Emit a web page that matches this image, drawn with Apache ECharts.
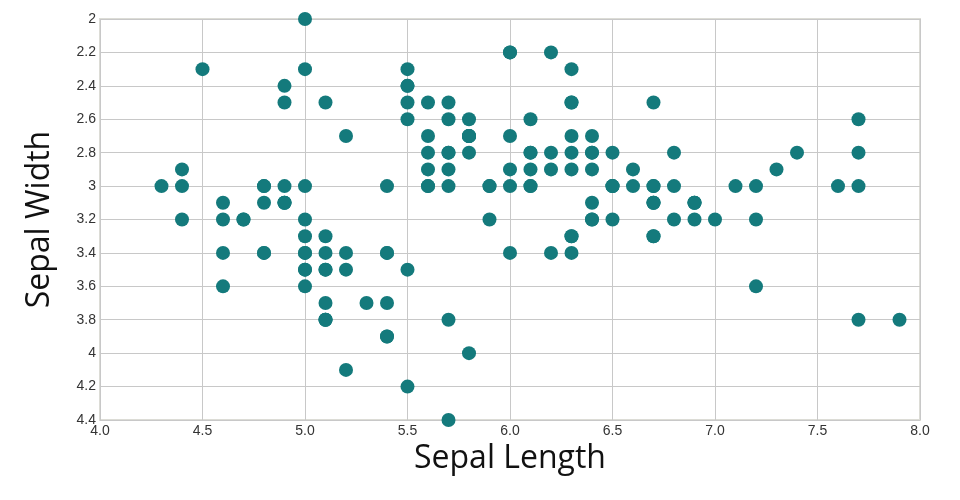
<!DOCTYPE html>
<html><head><meta charset="utf-8">
<script src="https://cdn.jsdelivr.net/npm/echarts@6/dist/echarts.min.js"></script>
<style>html,body{margin:0;padding:0;background:#fff}#c{width:960px;height:500px}</style>
</head><body><div id="c"></div>
<script>
const sepalLength = [5.1,4.9,4.7,4.6,5.0,5.4,4.6,5.0,4.4,4.9,5.4,4.8,4.8,4.3,5.8,5.7,5.4,5.1,5.7,5.1,5.4,5.1,4.6,5.1,4.8,5.0,5.0,5.2,5.2,4.7,4.8,5.4,5.2,5.5,4.9,5.0,5.5,4.9,4.4,5.1,5.0,4.5,4.4,5.0,5.1,4.8,5.1,4.6,5.3,5.0,
7.0,6.4,6.9,5.5,6.5,5.7,6.3,4.9,6.6,5.2,5.0,5.9,6.0,6.1,5.6,6.7,5.6,5.8,6.2,5.6,5.9,6.1,6.3,6.1,6.4,6.6,6.8,6.7,6.0,5.7,5.5,5.5,5.8,6.0,5.4,6.0,6.7,6.3,5.6,5.5,5.5,6.1,5.8,5.0,5.6,5.7,5.7,6.2,5.1,5.7,
6.3,5.8,7.1,6.3,6.5,7.6,4.9,7.3,6.7,7.2,6.5,6.4,6.8,5.7,5.8,6.4,6.5,7.7,7.7,6.0,6.9,5.6,7.7,6.3,6.7,7.2,6.2,6.1,6.4,7.2,7.4,7.9,6.4,6.3,6.1,7.7,6.3,6.4,6.0,6.9,6.7,6.9,5.8,6.8,6.7,6.7,6.3,6.5,6.2,5.9];
const sepalWidth = [3.5,3.0,3.2,3.1,3.6,3.9,3.4,3.4,2.9,3.1,3.7,3.4,3.0,3.0,4.0,4.4,3.9,3.5,3.8,3.8,3.4,3.7,3.6,3.3,3.4,3.0,3.4,3.5,3.4,3.2,3.1,3.4,4.1,4.2,3.1,3.2,3.5,3.1,3.0,3.4,3.5,2.3,3.2,3.5,3.8,3.0,3.8,3.2,3.7,3.3,
3.2,3.2,3.1,2.3,2.8,2.8,3.3,2.4,2.9,2.7,2.0,3.0,2.2,2.9,2.9,3.1,3.0,2.7,2.2,2.5,3.2,2.8,2.5,2.8,2.9,3.0,2.8,3.0,2.9,2.6,2.4,2.4,2.7,2.7,3.0,3.4,3.1,2.3,3.0,2.5,2.6,3.0,2.6,2.3,2.7,3.0,2.9,2.9,2.5,2.8,
3.3,2.7,3.0,2.9,3.0,3.0,2.5,2.9,2.5,3.6,3.2,2.7,3.0,2.5,2.8,3.2,3.0,3.8,2.6,2.2,3.2,2.8,2.8,2.7,3.3,3.2,2.8,3.0,2.8,3.0,2.8,3.8,2.8,2.8,2.6,3.0,3.4,3.1,3.0,3.1,3.1,3.1,2.7,3.2,3.3,3.0,2.5,3.0,3.4,3.0];
const xTicks = {min: 4, max: 8, step: 0.5};
const yTicks = {min: 2, max: 4.4, step: 0.2};

const points = sepalLength.map((x, i) => [x, sepalWidth[i]]);
const chart = echarts.init(document.getElementById('c'));
const tickFont = {fontFamily: 'Liberation Sans', fontSize: 14, color: '#333'};
const nameFont = {fontFamily: 'Open Sans', fontSize: 32, fontWeight: 'normal', color: '#111'};
chart.setOption({
  animation: false,
  grid: {left: 100, right: 40, top: 19, bottom: 80, show: true, borderColor: '#dcdcd6', borderWidth: 2},
  xAxis: {
    type: 'value', min: xTicks.min, max: xTicks.max, interval: xTicks.step,
    name: 'Sepal Length', nameLocation: 'middle', nameGap: 22, nameTextStyle: nameFont,
    axisLine: {show: false}, axisTick: {show: false},
    axisLabel: Object.assign({margin: 4, formatter: v => v.toFixed(1)}, tickFont),
    splitLine: {show: true, lineStyle: {color: '#c8c8c8', width: 1}}
  },
  yAxis: {
    type: 'value', inverse: true, min: yTicks.min, max: yTicks.max, interval: yTicks.step,
    name: 'Sepal Width', nameLocation: 'middle', nameGap: 44, nameTextStyle: nameFont,
    axisLine: {show: false}, axisTick: {show: false},
    axisLabel: Object.assign({margin: 4, formatter: v => String(+v.toFixed(1))}, tickFont),
    splitLine: {show: true, lineStyle: {color: '#c8c8c8', width: 1}}
  },
  series: [{
    type: 'scatter', data: points, symbolSize: 14,
    itemStyle: {color: '#147a7c', opacity: 1}
  }]
});
</script></body></html>
